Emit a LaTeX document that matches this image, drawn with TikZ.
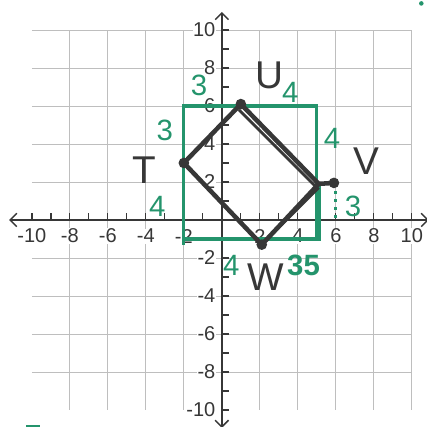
\documentclass[tikz,border=0pt]{standalone}
\usepackage{fontspec}
\setmainfont{Liberation Sans}
\usetikzlibrary{arrows.meta,positioning}
\definecolor{PenGreen}{RGB}{36,148,108}
\definecolor{PenBlack}{RGB}{55,55,55}
\definecolor{GridGray}{RGB}{190,190,190}
\tikzset{
  gridline/.style={GridGray,line width=0.6pt},
  axisline/.style={PenBlack,line width=1.1pt,
    {Straight Barb[length=5pt,width=10pt]}-{Straight Barb[length=5pt,width=10pt]}},
  tickmark/.style={PenBlack,line width=0.9pt},
  ticklabel/.style={font=\fontsize{15}{15}\selectfont,text=PenBlack,
    fill=white,inner sep=0.4pt},
  boxline/.style={PenGreen,line width=2.4pt},
  figline/.style={PenBlack,line width=3.4pt,line cap=round,line join=round},
  vertex/.style={circle,fill=PenBlack,inner sep=0pt,minimum size=8pt},
  letter/.style={font=\fontsize{29}{29}\selectfont,text=PenBlack},
  sidelen/.style={font=\fontsize{22}{22}\selectfont,text=PenGreen}
}

\begin{document}
\begin{tikzpicture}[x=0.5cm,y=0.5cm]
  \useasboundingbox (-11.68,-10.9) rectangle (10.79,11.58);
  % grid and axes
  \draw[gridline] (-10,-10) grid (10,10);
  \draw[axisline] (-11.2,0) -- (10.9,0);
  \draw[axisline] (0,-10.95) -- (0,10.95);
  \foreach \i in {-10,...,10} {
    \draw[tickmark] (\i,0) -- (\i,0.35);
    \draw[tickmark] (0,\i) -- (0.35,\i);
  }
  \foreach \i in {-10,-8,-6,-4,-2,2,4,6,8,10} {
    \node[ticklabel] (xl\i) at (\i,-0.85) {\i};
    \node[ticklabel,anchor=east] (yl\i) at (-0.3,\i) {\i};
  }
  % green box round the figure
  \coordinate (BL) at (-2,-1);
  \coordinate (TR) at (5,6);
  \draw[boxline] (BL) rectangle (TR);
  \draw[boxline] (-2,-1) -- (-2,-1.3);
  \draw[boxline] (5.15,2) -- (5.15,-1.1);
  \draw[PenGreen,line width=2.4pt,dash pattern=on 2pt off 4pt] (6,1.5) -- (6,0.1);
  % figure TUVW
  \coordinate (T) at (-2,3);
  \coordinate (U) at (1,6.1);
  \coordinate (Vc) at (5.1,1.9);
  \coordinate (V) at (5.9,1.95);
  \coordinate (W) at (2.1,-1.3);
  \draw[figline] (T) -- (U) -- (Vc) -- (W) -- cycle;
  \draw[figline] (Vc) -- (V);
  \draw[PenBlack,line width=2.2pt] (0.9,5.8) -- (5.1,1.6);
  \draw[PenBlack,line width=2.2pt] (W) -- (5,1.6);
  \foreach \p in {T,U,V,W}
    \node[vertex] (dot\p) at (\p) {};
  \node[letter] (labT) at (-4.1,2.6) {T};
  \node[letter] (labU) at (2.5,7.6) {U};
  \node[letter] (labV) at (7.6,3.1) {V};
  \node[letter] (labW) at (2.3,-3) {W};
  % side lengths
  \node[sidelen] (n1) at (-1.2,7.1) {3};
  \node[sidelen] (n2) at (3.6,6.7) {4};
  \node[sidelen] (n3) at (-3,4.7) {3};
  \node[sidelen] (n4) at (5.8,4.3) {4};
  \node[sidelen] (n5) at (-3.4,0.7) {4};
  \node[sidelen] (n6) at (6.9,0.7) {3};
  \node[sidelen] (n7) at (0.5,-2.4) {4};
  \node[sidelen] (n8) at (4.3,-2.4) {\bfseries 35};
  \fill[PenGreen] (10.5,11.4) circle (0.12);
  \draw[PenGreen,line width=2pt] (-10.3,-10.85) -- (-9.6,-10.85);
\end{tikzpicture}
\end{document}
